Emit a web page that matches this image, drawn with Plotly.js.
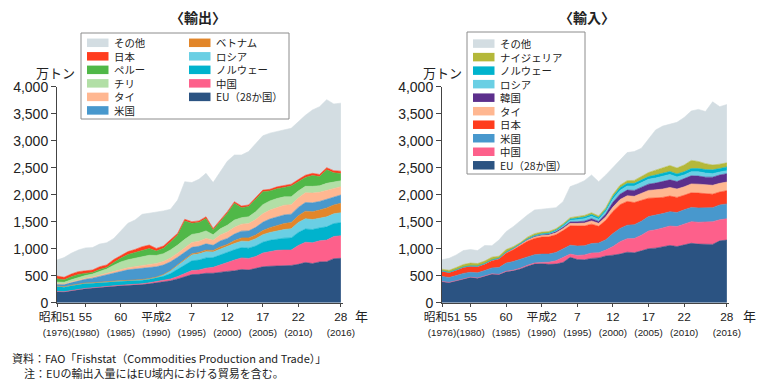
<!DOCTYPE html>
<html>
<head>
<meta charset="utf-8">
<script src="https://cdn.plot.ly/plotly-3.0.1.min.js"></script>
<style>
  html, body { margin: 0; padding: 0; background: #fff; }
  #chart { width: 760px; height: 387px; }
</style>
</head>
<body>
<div id="chart"></div>
<script>
// ---------------- DATA (万トン) ----------------
const years = [1976,1977,1978,1979,1980,1981,1982,1983,1984,1985,
               1986,1987,1988,1989,1990,1991,1992,1993,1994,1995,
               1996,1997,1998,1999,2000,2001,2002,2003,2004,2005,
               2006,2007,2008,2009,2010,2011,2012,2013,2014,2015,2016];

const tickYears   = [1976, 1980, 1985, 1990, 1995, 2000, 2005, 2010, 2016];
const tickEra     = ['昭和51', '55', '60', '平成2', '7', '12', '17', '22', '28'];
const tickWestern = ['(1976)', '(1980)', '(1985)', '(1990)', '(1995)', '(2000)', '(2005)', '(2010)', '(2016)'];

// ----- 輸出 (exports) -----
const exEU      = [205,200,220,245,260,270,285,300,305,315, 320,325,335,350,370,380,405,440,480,520,
                   525,545,545,565,580,590,615,605,630,665, 675,680,680,690,710,745,725,755,760,815,822];
const exChina   = [3,3,4,4,5,5,6,6,7,8, 10,12,15,18,22,28,35,45,55,75,
                   80,95,110,140,165,200,215,215,225,255, 275,290,295,285,350,375,385,390,400,410,419];
const exNorway  = [90,85,88,90,90,85,82,80,78,75, 72,70,68,66,66,80,100,130,160,180,
                   185,190,180,180,180,190,190,190,195,200, 205,210,220,225,240,245,245,240,245,240,241];
const exRussia  = [10,10,10,10,10,10,10,10,10,10, 10,10,10,12,15,30,50,75,95,110,
                   115,115,105,110,110,115,120,125,135,140, 145,150,160,170,185,190,185,180,185,180,185];
const exVietnam = [0,0,0,0,0,0,0,0,0,1, 1,1,2,2,3,5,8,12,18,20,
                   25,30,28,38,45,55,60,65,70,75, 90,100,110,115,125,140,145,150,165,165,174];
const exUS      = [35,40,50,60,70,85,105,125,150,175, 195,205,210,205,190,175,160,140,125,120,
                   115,115,95,110,110,120,125,130,140,155, 160,160,160,155,155,160,165,160,160,155,154];
const exThai    = [10,10,12,15,18,20,22,25,28,32, 38,45,50,55,60,65,70,75,80,90,
                   95,100,95,110,120,125,130,135,145,155, 165,175,180,175,175,180,180,170,165,155,153];
const exChile   = [30,30,40,45,50,55,70,80,115,140, 150,160,165,170,150,145,150,150,160,150,
                   145,140,100,115,125,135,120,125,145,170, 170,165,155,145,130,120,125,120,130,115,110];
const exPeru    = [60,45,55,55,40,30,35,25,50,70, 95,100,120,125,80,100,145,185,340,205,
                   200,230,90,135,220,310,185,190,235,240, 185,180,175,200,170,165,200,170,250,170,135];
const exJapan   = [51,47,51,51,47,45,50,49,57,55, 55,58,62,64,49,42,37,33,32,30,
                   30,30,27,27,30,30,30,30,30,30, 30,35,35,35,40,40,40,40,40,40,42];
const exOther   = [296,365,385,400,425,415,420,410,390,450, 525,545,600,590,670,650,570,615,695,725,
                   770,805,850,895,935,865,945,990,1000,1005, 1040,1025,1040,1035,1070,1110,1175,1255,1260,1235,1260];

// ----- 輸入 (imports) -----
const imEU      = [390,375,405,440,470,455,490,530,520,575, 590,625,675,715,720,710,715,745,840,800,
                   795,820,830,865,880,900,935,925,960,1000, 1010,1035,1060,1040,1070,1100,1085,1085,1080,1145,1160];
const imChina   = [2,2,2,3,3,3,4,4,5,8, 12,15,18,20,25,40,60,90,60,75,
                   90,100,95,110,160,230,250,265,290,330, 340,350,360,370,390,400,405,410,420,390,395];
const imUS      = [95,90,95,100,90,95,100,110,125,150, 160,165,160,155,155,150,155,160,165,175,
                   170,175,180,190,240,245,250,255,260,265, 270,265,265,260,260,265,265,260,260,275,275];
const imJapan   = [95,90,100,110,110,115,120,135,160,185, 220,250,285,300,315,320,330,340,360,370,
                   365,360,310,360,410,440,440,410,390,340, 320,300,290,280,270,270,275,265,250,240,245];
const imThai    = [5,5,6,6,7,8,8,9,10,12, 15,18,22,26,30,33,36,40,45,50,
                   55,60,55,65,80,95,105,115,125,145, 150,155,160,155,155,165,165,160,165,160,160];
const imKorea   = [0,0,0,0,0,1,1,2,3,5, 8,10,15,18,20,22,22,22,25,28,
                   35,40,35,55,90,100,105,110,110,115, 125,135,140,140,150,150,150,145,150,155,155];
const imRussia  = [0,0,0,0,0,0,0,0,0,0, 0,0,0,0,0,0,10,20,30,40,
                   45,45,40,45,60,70,75,80,85,90, 95,100,100,85,70,75,80,75,65,55,55];
const imNorway  = [3,3,3,3,3,3,3,3,3,3, 3,5,8,10,12,14,16,20,25,30,
                   32,35,32,35,45,50,50,50,50,50, 55,55,55,55,60,60,60,65,70,65,70];
const imNigeria = [30,35,40,45,50,45,45,50,35,45, 30,25,30,35,30,30,25,25,25,30,
                   30,30,30,35,40,45,50,55,60,75, 90,105,110,110,125,150,130,110,90,80,75];
const imOther   = [175,222,233,258,252,240,289,212,299,333, 370,406,411,438,422,429,391,409,575,602,
                   643,700,634,605,495,475,520,535,530,620, 745,770,770,845,880,915,965,965,1170,1065,1080];

// Series definitions (stack order bottom -> top)
const exSeries = [
  {name: 'EU（28か国）', y: exEU,      color: '#2b5382'},
  {name: '中国',         y: exChina,   color: '#fd608b'},
  {name: 'ノルウェー',   y: exNorway,  color: '#00b3cd'},
  {name: 'ロシア',       y: exRussia,  color: '#6acfe4'},
  {name: 'ベトナム',     y: exVietnam, color: '#e2862a'},
  {name: '米国',         y: exUS,      color: '#4898cd'},
  {name: 'タイ',         y: exThai,    color: '#ffb791'},
  {name: 'チリ',         y: exChile,   color: '#b2dfa6'},
  {name: 'ペルー',       y: exPeru,    color: '#50b848'},
  {name: '日本',         y: exJapan,   color: '#ff3c1e'},
  {name: 'その他',       y: exOther,   color: '#d3dde2'}
];
const imSeries = [
  {name: 'EU（28か国）', y: imEU,      color: '#2b5382'},
  {name: '中国',         y: imChina,   color: '#fd608b'},
  {name: '米国',         y: imUS,      color: '#4898cd'},
  {name: '日本',         y: imJapan,   color: '#ff3c1e'},
  {name: 'タイ',         y: imThai,    color: '#ffb791'},
  {name: '韓国',         y: imKorea,   color: '#5c2f8c'},
  {name: 'ロシア',       y: imRussia,  color: '#6acfe4'},
  {name: 'ノルウェー',   y: imNorway,  color: '#00b3cd'},
  {name: 'ナイジェリア', y: imNigeria, color: '#b4b83a'},
  {name: 'その他',       y: imOther,   color: '#d3dde2'}
];

// ---------------- LAYOUT HELPERS ----------------
const W = 760, H = 387;
const px = x => x / W;
const py = y => 1 - y / H;
const FONT = 'Liberation Sans, Arial, Noto Sans CJK JP, sans-serif';
const JFONT = 'Noto Sans CJK JP, sans-serif';

const traces = [];
exSeries.forEach(s => traces.push({
  type: 'scatter', mode: 'lines', x: years, y: s.y, name: s.name,
  stackgroup: 'ex', line: {width: 0.6, color: s.color}, fillcolor: s.color,
  xaxis: 'x', yaxis: 'y', hoverinfo: 'x+y+name'
}));
imSeries.forEach(s => traces.push({
  type: 'scatter', mode: 'lines', x: years, y: s.y, name: s.name,
  stackgroup: 'im', line: {width: 0.6, color: s.color}, fillcolor: s.color,
  xaxis: 'x2', yaxis: 'y2', hoverinfo: 'x+y+name'
}));

const tickText = tickEra.map((e, i) =>
  e + '<br><span style="font-size:9.8px">' + tickWestern[i] + '</span>');

const yDomain = [py(302.7), py(86.7)];
function xAxis(domain) {
  return {
    domain: domain, range: [1976, 2016.3], tickmode: 'array',
    tickvals: tickYears, ticktext: tickText, tickangle: 0,
    ticks: 'outside', ticklen: 3, tickcolor: '#444', tickwidth: 1,
    showline: true, linecolor: '#444', linewidth: 1,
    showgrid: false, zeroline: false, fixedrange: true,
    tickfont: {family: FONT, size: 11.8, color: '#222'}
  };
}
function yAxis(anchor) {
  return {
    domain: yDomain, range: [0, 4000], dtick: 500, tick0: 0,
    tickformat: ',d', ticks: 'outside', ticklen: 5, tickcolor: '#444', tickwidth: 1,
    showline: true, linecolor: '#444', linewidth: 1, anchor: anchor,
    showgrid: false, zeroline: false, fixedrange: true,
    tickfont: {family: FONT, size: 14, color: '#222'}
  };
}

const shapes = [];
const annotations = [];

// Manual legends (compact, matching the reference boxes).
// Each column's labels form one multi-line text so rows sit 13.5px apart.
const LEG_FONT = 10.4;                 // Plotly line height = 1.3 * font = 13.5px
const ROW = LEG_FONT * 1.3;
function buildLegend(box, columns, firstRowY, swatchW, swatchH) {
  shapes.push({type: 'rect', xref: 'paper', yref: 'paper',
    x0: px(box.x0), x1: px(box.x1), y0: py(box.y1), y1: py(box.y0),
    fillcolor: '#ffffff', line: {color: '#8c8c8c', width: 1}, layer: 'above'});
  columns.forEach(col => {
    col.items.forEach((s, i) => {
      const yc = firstRowY + i * ROW;
      shapes.push({type: 'rect', xref: 'paper', yref: 'paper',
        x0: px(col.sx), x1: px(col.sx + swatchW), y0: py(yc + swatchH / 2), y1: py(yc - swatchH / 2),
        fillcolor: s.color, line: {width: 0}, layer: 'above'});
    });
    const n = col.items.length;
    const midY = firstRowY + (n - 1) * ROW / 2;
    annotations.push({xref: 'paper', yref: 'paper', x: px(col.tx), y: py(midY),
      xanchor: 'left', yanchor: 'middle', align: 'left', showarrow: false, borderpad: 0,
      text: col.items.map(s => s.name).join('<br>'),
      font: {family: JFONT, size: LEG_FONT, color: '#222'}});
  });
}
const exByName = n => exSeries.find(s => s.name === n);
const imByName = n => imSeries.find(s => s.name === n);
buildLegend({x0: 81, x1: 289, y0: 33, y1: 119},
  [ {sx: 87, tx: 113, items: ['その他','日本','ペルー','チリ','タイ','米国'].map(exByName)},
    {sx: 189, tx: 215, items: ['ベトナム','ロシア','ノルウェー','中国','EU（28か国）'].map(exByName)} ],
  42.8, 21.5, 8.5);
buildLegend({x0: 467, x1: 585, y0: 32, y1: 174},
  [ {sx: 473, tx: 499, items: ['その他','ナイジェリア','ノルウェー','ロシア','韓国','タイ','日本','米国','中国','EU（28か国）'].map(imByName)} ],
  43.6, 21.5, 8.5);

// Titles, units, year marks, notes
annotations.push(
  {xref: 'paper', yref: 'paper', x: px(198), y: py(17), text: '<b>〈輸出〉</b>', showarrow: false,
   xanchor: 'center', yanchor: 'middle', font: {family: JFONT, size: 14, color: '#222'}},
  {xref: 'paper', yref: 'paper', x: px(587), y: py(17), text: '<b>〈輸入〉</b>', showarrow: false,
   xanchor: 'center', yanchor: 'middle', font: {family: JFONT, size: 14, color: '#222'}},
  {xref: 'paper', yref: 'paper', x: px(56), y: py(72), text: '万トン', showarrow: false,
   xanchor: 'center', yanchor: 'middle', font: {family: JFONT, size: 13, color: '#222'}},
  {xref: 'paper', yref: 'paper', x: px(442), y: py(72), text: '万トン', showarrow: false,
   xanchor: 'center', yanchor: 'middle', font: {family: JFONT, size: 13, color: '#222'}},
  {xref: 'paper', yref: 'paper', x: px(361), y: py(315), text: '年', showarrow: false,
   xanchor: 'center', yanchor: 'middle', font: {family: JFONT, size: 13, color: '#222'}},
  {xref: 'paper', yref: 'paper', x: px(749), y: py(315), text: '年', showarrow: false,
   xanchor: 'center', yanchor: 'middle', font: {family: JFONT, size: 13, color: '#222'}},
  {xref: 'paper', yref: 'paper', x: px(10), y: py(358), text: '資料：FAO「Fishstat（Commodities Production and Trade）」',
   showarrow: false, xanchor: 'left', yanchor: 'middle', font: {family: JFONT, size: 11, color: '#222'}},
  {xref: 'paper', yref: 'paper', x: px(22), y: py(373), text: '注：EUの輸出入量にはEU域内における貿易を含む。',
   showarrow: false, xanchor: 'left', yanchor: 'middle', font: {family: JFONT, size: 11, color: '#222'}}
);

const layout = {
  width: W, height: H,
  margin: {l: 0, r: 0, t: 0, b: 0, pad: 0},
  paper_bgcolor: '#ffffff', plot_bgcolor: '#ffffff',
  showlegend: false,
  font: {family: FONT, color: '#222'},
  xaxis: Object.assign(xAxis([px(57), px(343)]), {anchor: 'y'}),
  yaxis: yAxis('x'),
  xaxis2: Object.assign(xAxis([px(442), px(729)]), {anchor: 'y2'}),
  yaxis2: yAxis('x2'),
  shapes: shapes,
  annotations: annotations
};

Plotly.newPlot('chart', traces, layout, {displayModeBar: false, staticPlot: true});
</script>
</body>
</html>
